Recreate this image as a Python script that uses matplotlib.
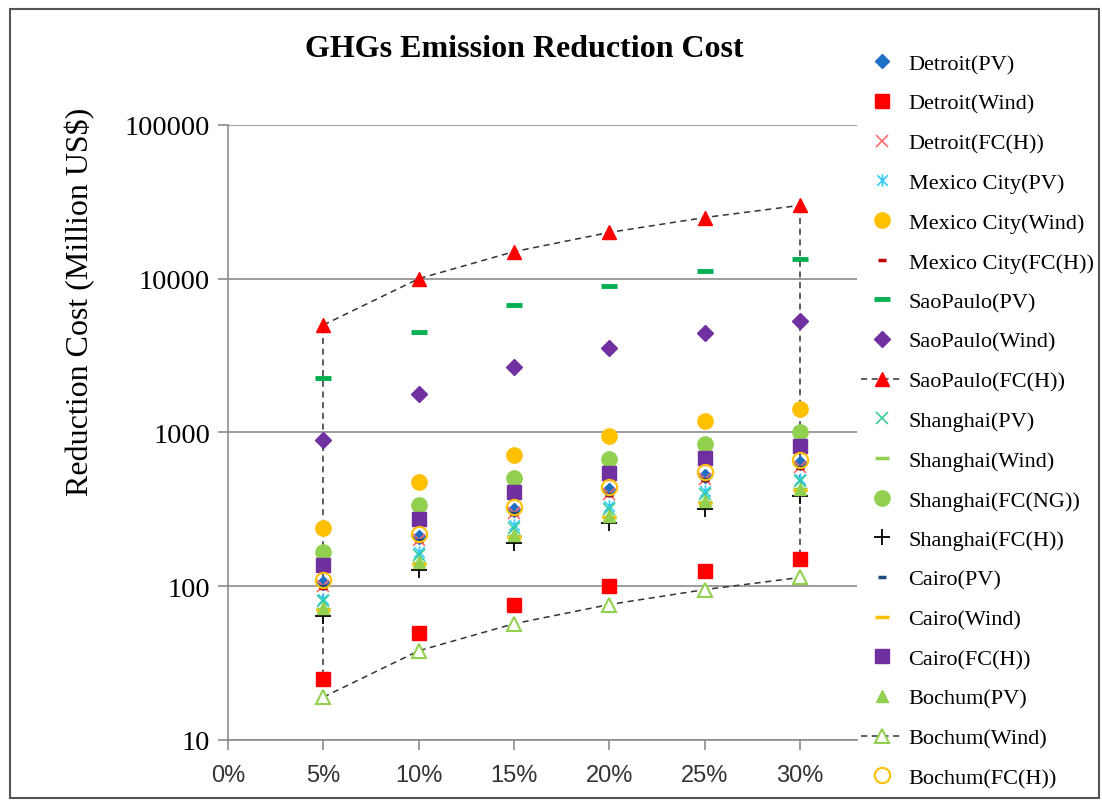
import matplotlib
matplotlib.use('Agg')
import matplotlib.pyplot as plt
from matplotlib.path import Path
import numpy as np

# reduction levels
shares = [0.05, 0.10, 0.15, 0.20, 0.25, 0.30]

detroit_pv = [105, 210, 315, 420, 525, 630]
detroit_wind = [25, 50, 75, 100, 125, 150]
detroit_fch = [100, 200, 300, 400, 500, 600]
mexico_pv = [83, 166, 249, 332, 415, 498]
mexico_wind = [238, 475, 713, 950, 1188, 1425]
mexico_fch = [98, 196, 294, 392, 490, 588]
saopaulo_pv = [2250, 4500, 6750, 9000, 11250, 13500]
saopaulo_wind = [890, 1780, 2670, 3560, 4450, 5340]
saopaulo_fch = [5000, 10000, 15000, 20000, 25000, 30000]
shanghai_pv = [80, 160, 240, 320, 400, 480]
shanghai_wind = [71, 142, 213, 284, 355, 426]
shanghai_fcng = [168, 336, 504, 672, 840, 1008]
shanghai_fch = [64, 128, 192, 256, 320, 384]
cairo_pv = [100, 200, 300, 400, 500, 600]
cairo_wind = [70, 140, 210, 280, 350, 420]
cairo_fch = [137, 274, 411, 548, 685, 822]
bochum_pv = [72, 144, 216, 288, 360, 432]
bochum_wind = [19, 38, 57, 76, 95, 114]
bochum_fch = [110, 220, 330, 440, 550, 660]

yticks = [10, 100, 1000, 10000, 100000]
xticks = [0, 0.05, 0.10, 0.15, 0.20, 0.25, 0.30]

# excel style "star": x with a vertical bar
star = Path([(-1, -1), (1, 1), (-1, 1), (1, -1), (0, -1.2), (0, 1.2)],
            [Path.MOVETO, Path.LINETO, Path.MOVETO, Path.LINETO, Path.MOVETO, Path.LINETO])

serif = 'Liberation Serif'

fig = plt.figure(figsize=(11.02, 8.04), dpi=100)
ax = fig.add_axes([0.2069, 0.0784, 0.5708, 0.7649])

def pts(vals, label, **kw):
    style = dict(linestyle='none')
    style.update(kw)
    ax.plot(shares, vals, label=label, **style)

pts(detroit_pv, 'Detroit(PV)', marker='D', ms=7, color='#1F6FC5')
pts(detroit_wind, 'Detroit(Wind)', marker='s', ms=10, color='#FF0000')
pts(detroit_fch, 'Detroit(FC(H))', marker='x', ms=9, mew=1.2, color='#FF6B6B')
pts(mexico_pv, 'Mexico City(PV)', marker=star, ms=9, mew=1.2, color='#33CCFF', fillstyle='none')
pts(mexico_wind, 'Mexico City(Wind)', marker='o', ms=11, color='#FFC000')
pts(mexico_fch, 'Mexico City(FC(H))', marker='_', ms=6, mew=2.5, color='#C00000')
pts(saopaulo_pv, 'SaoPaulo(PV)', marker='_', ms=12, mew=3.5, color='#00B050')
pts(saopaulo_wind, 'SaoPaulo(Wind)', marker='D', ms=8, color='#7030A0')
pts(saopaulo_fch, 'SaoPaulo(FC(H))', marker='^', ms=10, color='#333333',
    linestyle=(0, (4, 3)), lw=1.1, mec='#FF0000', mfc='#FF0000')
pts(shanghai_pv, 'Shanghai(PV)', marker='x', ms=9, mew=1.2, color='#33CC99')
pts(shanghai_wind, 'Shanghai(Wind)', marker='_', ms=10, mew=2.5, color='#92D050')
pts(shanghai_fcng, 'Shanghai(FC(NG))', marker='o', ms=11, color='#92D050')
pts(shanghai_fch, 'Shanghai(FC(H))', marker='+', ms=11, mew=1.3, color='#000000')
pts(cairo_pv, 'Cairo(PV)', marker='_', ms=6, mew=2.5, color='#1F497D')
pts(cairo_wind, 'Cairo(Wind)', marker='_', ms=10, mew=2.5, color='#FFC000')
pts(cairo_fch, 'Cairo(FC(H))', marker='s', ms=10, color='#7030A0')
pts(bochum_pv, 'Bochum(PV)', marker='^', ms=9, color='#92D050')
pts(bochum_wind, 'Bochum(Wind)', marker='^', ms=10, mfc='white', mec='#92D050', mew=1.5,
    linestyle=(0, (4, 3)), lw=1.1, color='#333333')
pts(bochum_fch, 'Bochum(FC(H))', marker='o', ms=11, mfc='none', mec='#FFC000', mew=1.5)

# vertical dashed bounds at first and last level
for i in (0, -1):
    ax.plot([shares[i], shares[i]], [bochum_wind[i], saopaulo_fch[i]],
            linestyle=(0, (4, 3)), lw=1.1, color='#333333', zorder=1)

ax.set_yscale('log')
ax.set_ylim(10, 100000)
ax.set_xlim(0, 0.33)
ax.set_yticks(yticks)
ax.set_yticklabels([str(v) for v in yticks], fontfamily=serif, fontsize=20.5)
ax.yaxis.set_minor_locator(matplotlib.ticker.NullLocator())
ax.set_xticks(xticks)
ax.set_xticklabels([f'{int(round(v * 100))}%' for v in xticks],
                   fontfamily='Liberation Sans', fontsize=17, color='#333333')
ax.grid(axis='y', color='#8C8C8C', lw=1.2)
ax.set_axisbelow(True)
for s in ('top', 'right'):
    ax.spines[s].set_visible(False)
for s in ('left', 'bottom'):
    ax.spines[s].set_color('#8C8C8C')
    ax.spines[s].set_linewidth(1.2)
ax.tick_params(axis='both', color='#8C8C8C', length=7, width=1.2, pad=6)
ax.tick_params(axis='x', pad=10)

fig.text(0.476, 0.938, 'GHGs Emission Reduction Cost', fontfamily=serif,
         fontsize=23, fontweight='bold', ha='center', va='center')
fig.text(0.073, 0.624, 'Reduction Cost (Million US$)', fontfamily=serif,
         fontsize=23, rotation=90, ha='center', va='center')

fig.legend(loc='upper left', bbox_to_anchor=(0.773, 0.943), frameon=False,
           prop={'family': serif, 'size': 16}, handlelength=1.9,
           handletextpad=0.25, labelspacing=0.86, borderaxespad=0)

# chart border
fig.add_artist(plt.Rectangle((0.009, 0.006), 0.988, 0.981, transform=fig.transFigure,
                             fill=False, edgecolor='#555555', lw=1.5))

fig.savefig('out.png', dpi=100)
